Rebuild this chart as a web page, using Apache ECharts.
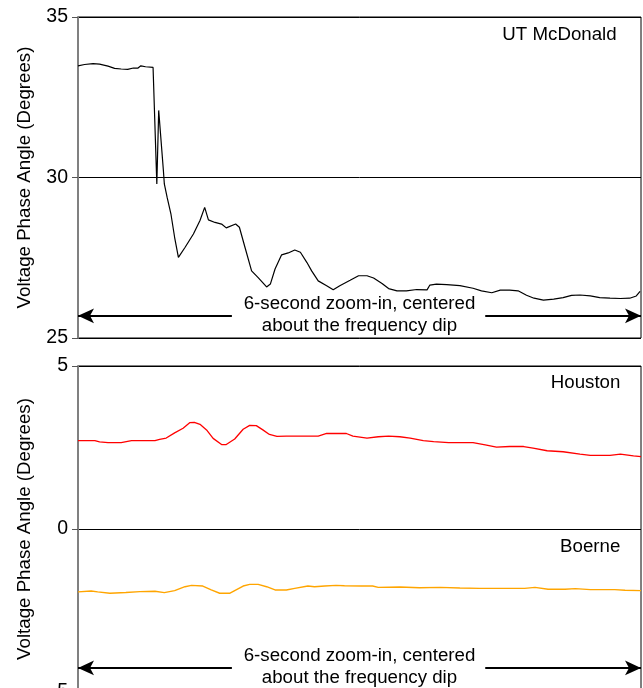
<!DOCTYPE html>
<html>
<head>
<meta charset="utf-8">
<script src="https://cdn.jsdelivr.net/npm/echarts@6/dist/echarts.min.js"></script>
<style>
html,body{margin:0;padding:0;background:#fff;}
#chart{width:643px;height:688px;}
</style>
</head>
<body>
<div id="chart"></div>
<script>
// time (s) and phase angle (degrees)
var mcdTime = [0.00,0.07,0.16,0.23,0.32,0.39,0.46,0.53,0.59,0.64,0.67,0.72,0.80,0.81,0.84,0.86,0.91,0.92,0.95,0.99,1.03,1.07,1.14,1.23,1.30,1.35,1.39,1.46,1.53,1.58,1.68,1.72,1.78,1.85,1.92,2.01,2.05,2.10,2.17,2.24,2.31,2.37,2.44,2.49,2.56,2.65,2.72,2.79,2.90,2.99,3.08,3.15,3.24,3.31,3.40,3.50,3.61,3.72,3.75,3.82,3.93,4.07,4.21,4.30,4.41,4.50,4.60,4.69,4.78,4.86,4.96,5.07,5.17,5.26,5.35,5.46,5.56,5.67,5.78,5.88,5.95,5.99];
var mcdAngle = [33.48,33.52,33.55,33.53,33.47,33.40,33.38,33.37,33.41,33.41,33.48,33.45,33.43,33.37,29.80,32.09,30.22,29.80,29.38,28.87,28.13,27.51,27.82,28.24,28.66,29.07,28.68,28.60,28.55,28.43,28.55,28.45,27.82,27.09,26.88,26.59,26.68,27.15,27.59,27.65,27.74,27.67,27.35,27.09,26.78,26.63,26.50,26.63,26.80,26.94,26.94,26.87,26.70,26.54,26.47,26.47,26.51,26.50,26.65,26.68,26.66,26.63,26.55,26.47,26.41,26.49,26.49,26.47,26.33,26.24,26.18,26.21,26.26,26.33,26.34,26.31,26.26,26.24,26.23,26.24,26.31,26.45];

var houTime = [0.00,0.18,0.23,0.32,0.46,0.57,0.82,0.87,0.94,1.03,1.12,1.19,1.24,1.30,1.37,1.44,1.53,1.58,1.67,1.76,1.83,1.90,1.97,2.04,2.12,2.22,2.37,2.56,2.65,2.86,2.93,3.08,3.20,3.31,3.43,3.54,3.68,3.79,3.95,4.21,4.34,4.46,4.60,4.75,4.85,5.00,5.17,5.35,5.46,5.67,5.78,5.92,6.00];
var houAngle = [2.71,2.71,2.67,2.65,2.65,2.71,2.71,2.75,2.79,2.95,3.09,3.26,3.27,3.21,3.04,2.78,2.59,2.59,2.76,3.06,3.18,3.17,3.04,2.90,2.84,2.85,2.85,2.85,2.93,2.93,2.85,2.79,2.83,2.85,2.83,2.79,2.71,2.68,2.65,2.65,2.58,2.51,2.53,2.53,2.48,2.40,2.37,2.30,2.26,2.26,2.30,2.24,2.22];

var boeTime = [0.00,0.14,0.21,0.34,0.51,0.66,0.82,0.92,1.03,1.14,1.21,1.33,1.42,1.51,1.62,1.67,1.76,1.83,1.92,2.01,2.10,2.22,2.31,2.45,2.52,2.63,2.75,2.84,3.02,3.14,3.20,3.43,3.64,3.86,4.07,4.28,4.76,4.87,5.01,5.19,5.30,5.46,5.72,5.83,6.00];
var boeAngle = [-1.93,-1.90,-1.93,-1.97,-1.95,-1.92,-1.91,-1.95,-1.89,-1.77,-1.73,-1.75,-1.87,-1.97,-1.97,-1.89,-1.75,-1.70,-1.70,-1.77,-1.87,-1.87,-1.82,-1.75,-1.77,-1.75,-1.73,-1.74,-1.75,-1.75,-1.79,-1.78,-1.80,-1.79,-1.81,-1.82,-1.82,-1.79,-1.85,-1.85,-1.83,-1.86,-1.86,-1.88,-1.89];

var topTicks = [25, 30, 35];
var bottomTicks = [-5, 0, 5];
var axisName = 'Voltage Phase Angle (Degrees)';
var noteText = '6-second zoom-in, centered\nabout the frequency dip';
var stationNames = ['UT McDonald', 'Houston', 'Boerne'];

function pairs(t, v) { return t.map(function (x, i) { return [x, v[i]]; }); }

var FONT = "'Liberation Sans', Arial, sans-serif";
var FS = 18.7;

function yAxisCfg(gridIndex, ticks) {
  return {
    type: 'value', gridIndex: gridIndex,
    min: ticks[0], max: ticks[ticks.length - 1], interval: ticks[1] - ticks[0],
    name: axisName, nameLocation: 'middle', nameGap: 44,
    nameTextStyle: { fontSize: FS, color: '#000', fontFamily: FONT },
    axisLine: { show: true, lineStyle: { color: '#808080', width: 2 } },
    axisTick: { show: true, length: 6, lineStyle: { color: '#555', width: 1 } },
    axisLabel: { fontSize: 19.5, color: '#000', fontFamily: FONT, margin: 10 },
    splitLine: { show: true, lineStyle: { color: '#000', width: 1 } }
  };
}
function xAxisCfg(gridIndex) {
  return { type: 'value', gridIndex: gridIndex, min: 0, max: 6, show: false };
}
function arrowLines(y) {
  return {
    silent: true, animation: false,
    lineStyle: { color: '#000', width: 2, type: 'solid' },
    label: { show: false },
    symbolSize: [11, 16],
    data: [
      [{ coord: [0, y], symbol: 'arrow' }, { coord: [1.64, y], symbol: 'none' }],
      [{ coord: [4.34, y], symbol: 'none' }, { coord: [6, y], symbol: 'arrow' }]
    ]
  };
}
function notes(list) {
  return {
    silent: true, animation: false, symbol: 'circle', symbolSize: 0,
    data: list.map(function (n) {
      return {
        coord: n.coord,
        label: { show: true, position: 'inside', formatter: n.text, align: n.align,
          verticalAlign: 'middle', fontSize: FS, lineHeight: 22, color: '#000', fontFamily: FONT }
      };
    })
  };
}

var chart = echarts.init(document.getElementById('chart'), null, { renderer: 'canvas' });
chart.setOption({
  animation: false,
  backgroundColor: '#fff',
  textStyle: { fontFamily: FONT },
  grid: [
    { left: 78, top: 17, width: 563, height: 321, outerBoundsMode: 'none', containLabel: false,
      show: true, borderColor: '#000', borderWidth: 1, backgroundColor: 'transparent' },
    { left: 78, top: 366, width: 563, height: 326, outerBoundsMode: 'none', containLabel: false,
      show: true, borderColor: '#000', borderWidth: 1, backgroundColor: 'transparent' }
  ],
  xAxis: [xAxisCfg(0), xAxisCfg(1)],
  yAxis: [yAxisCfg(0, topTicks), yAxisCfg(1, bottomTicks)],
  series: [
    { type: 'line', xAxisIndex: 0, yAxisIndex: 0, data: pairs(mcdTime, mcdAngle), showSymbol: false,
      lineStyle: { color: '#000', width: 1.2 }, itemStyle: { color: '#000' },
      markLine: arrowLines(25.69),
      markPoint: notes([
        { coord: [3.0, 25.72], text: noteText, align: 'center' },
        { coord: [5.74, 34.44], text: stationNames[0], align: 'right' }
      ]) },
    { type: 'line', xAxisIndex: 1, yAxisIndex: 1, data: pairs(houTime, houAngle), showSymbol: false,
      lineStyle: { color: '#ff0000', width: 1.3 }, itemStyle: { color: '#ff0000' },
      markLine: arrowLines(-4.26),
      markPoint: notes([
        { coord: [3.0, -4.23], text: noteText, align: 'center' },
        { coord: [5.78, 4.48], text: stationNames[1], align: 'right' },
        { coord: [5.78, -0.55], text: stationNames[2], align: 'right' }
      ]) },
    { type: 'line', xAxisIndex: 1, yAxisIndex: 1, data: pairs(boeTime, boeAngle), showSymbol: false,
      lineStyle: { color: '#ffa500', width: 1.4 }, itemStyle: { color: '#ffa500' } }
  ]
});
</script>
</body>
</html>
